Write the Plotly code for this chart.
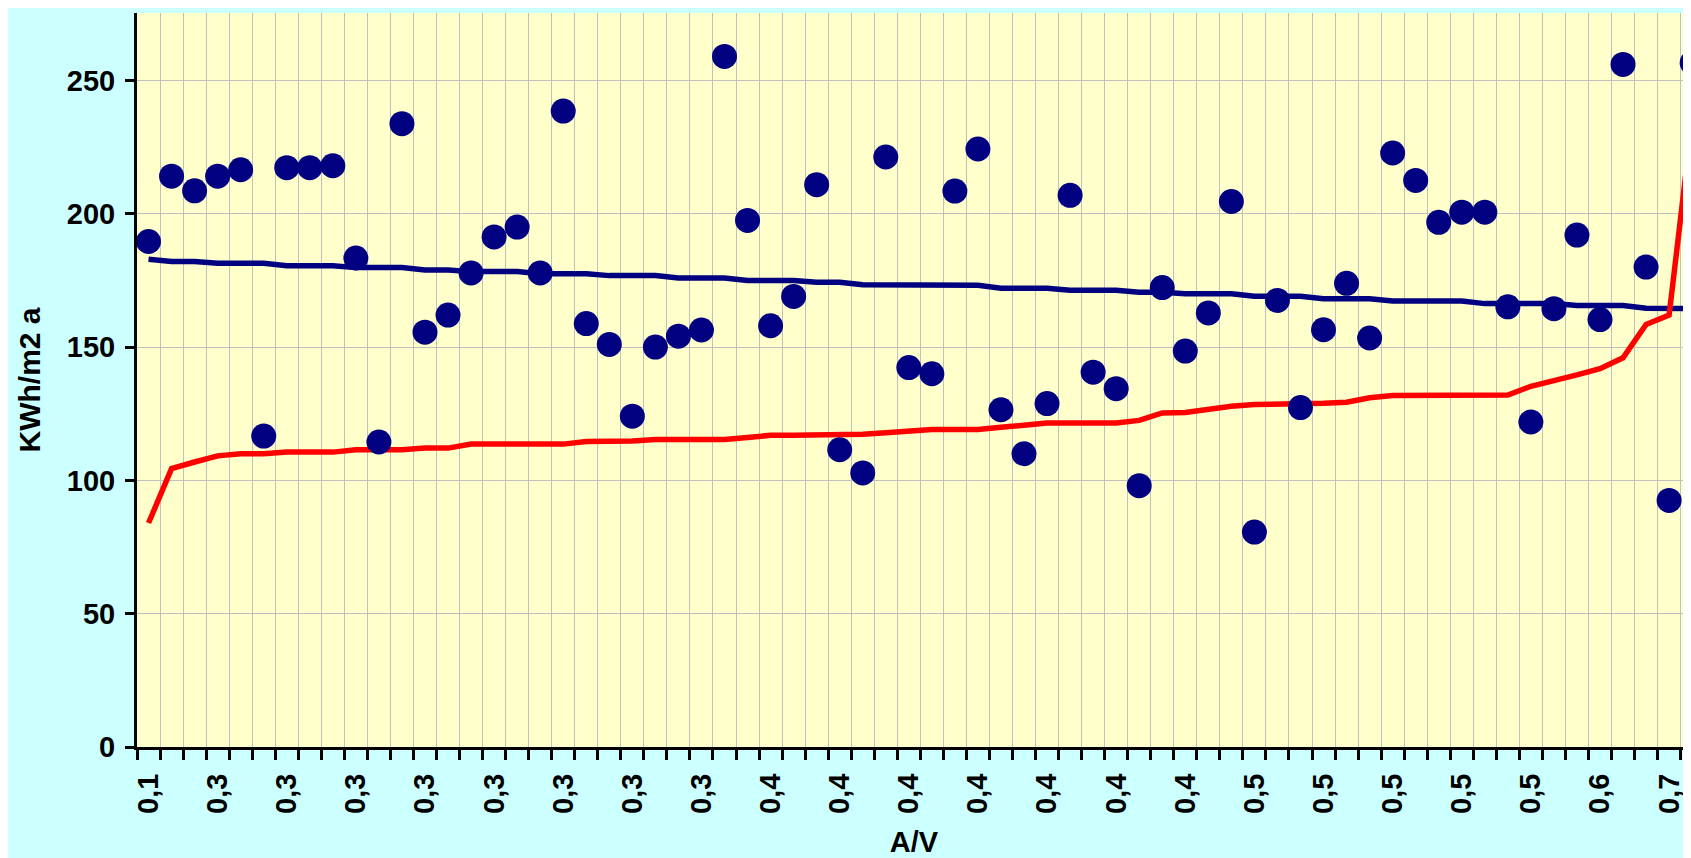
import plotly.graph_objects as go

# ---- data ----
# category index (one per building, sorted by A/V)
categories = list(range(68))

# A/V tick labels (every third category is labelled)
label_positions = [0, 3, 6, 9, 12, 15, 18, 21, 24, 27, 30, 33, 36, 39, 42, 45, 48, 51, 54, 57, 60, 63, 66]
av_labels = ["0,1", "0,3", "0,3", "0,3", "0,3", "0,3", "0,3", "0,3", "0,3",
             "0,4", "0,4", "0,4", "0,4", "0,4", "0,4", "0,4",
             "0,5", "0,5", "0,5", "0,5", "0,5", "0,6", "0,7"]

# measured energy demand (dots), KWh/m2 a
energy = [189.6, 214.1, 208.6, 214.1, 216.5, 116.6, 217.3, 217.3, 218.0, 183.4,
          114.4, 233.8, 155.6, 162.0, 177.8, 191.3, 195.0, 177.8, 238.5, 158.8,
          151.0, 124.1, 150.0, 154.1, 156.4, 259.0, 197.5, 158.0, 169.0, 210.9,
          111.5, 102.8, 221.3, 142.3, 140.0, 208.5, 224.3, 126.5, 110.0, 128.8,
          206.9, 140.6, 134.4, 98.0, 172.3, 148.5, 162.8, 204.6, 80.6, 167.5,
          127.3, 156.5, 173.9, 153.4, 222.8, 212.5, 196.8, 200.6, 200.6, 165.1,
          121.9, 164.4, 192.0, 160.3, 256.0, 180.0, 92.5, 256.6]

# blue trend line
trend = [182.9, 182.1, 182.1, 181.4, 181.4, 181.4, 180.5, 180.5, 180.5, 179.8,
         179.8, 179.8, 178.9, 178.9, 178.3, 178.3, 178.3, 177.5, 177.5, 177.5,
         176.8, 176.8, 176.8, 175.9, 175.9, 175.9, 175.0, 175.0, 175.0, 174.3,
         174.3, 173.4, 173.4, 173.4, 173.2, 173.2, 173.2, 172.1, 172.1, 172.1,
         171.3, 171.3, 171.3, 170.6, 170.6, 170.0, 170.0, 170.0, 169.1, 169.1,
         169.1, 168.1, 168.1, 168.1, 167.3, 167.3, 167.3, 167.3, 166.3, 166.3,
         166.3, 166.3, 165.6, 165.6, 165.6, 164.6, 164.4, 164.4]

# red limit line
limit = [84.0, 104.4, 106.9, 109.2, 110.0, 110.0, 110.6, 110.6, 110.6, 111.5,
         111.5, 111.5, 112.1, 112.1, 113.6, 113.6, 113.6, 113.6, 113.6, 114.6,
         114.6, 114.8, 115.3, 115.3, 115.3, 115.3, 116.1, 116.9, 116.9, 116.9,
         116.9, 117.3, 117.9, 118.5, 119.1, 119.1, 119.1, 119.9, 120.7, 121.5,
         121.5, 121.5, 121.5, 122.5, 125.3, 125.5, 126.7, 127.8, 128.5, 128.5,
         128.5, 128.9, 129.3, 131.0, 131.8, 131.8, 131.8, 131.8, 131.8, 132.0,
         135.3, 137.3, 139.6, 141.9, 146.0, 158.5, 162.0, 235.0]

NAVY = "#000080"
RED = "#FF0000"
FONT = "Liberation Sans, Arial, sans-serif"

fig = go.Figure()
fig.add_trace(go.Scatter(x=categories, y=trend, mode="lines",
                         line=dict(color=NAVY, width=5.5), showlegend=False))
fig.add_trace(go.Scatter(x=categories, y=limit, mode="lines",
                         line=dict(color=RED, width=5.5), showlegend=False))
fig.add_trace(go.Scatter(x=categories, y=energy, mode="markers",
                         marker=dict(color=NAVY, size=25, line=dict(width=0)),
                         showlegend=False))

# the page body has an 8px margin: size the figure so that it ends at the window edge
fig.update_layout(
    width=1683, height=850,
    margin=dict(l=129, r=0, t=5, b=111),
    paper_bgcolor="#CCFFFF",
    plot_bgcolor="#FFFFCC",
    showlegend=False,
    font=dict(family=FONT, color="black"),
)

fig.update_xaxes(
    range=[-0.5, 66.95],
    tickmode="array", tickvals=label_positions, ticktext=av_labels,
    tickangle=-90,
    ticks="outside", ticklen=12, tickcolor="rgba(0,0,0,0)",
    tickfont=dict(family=FONT, size=29, weight="bold", color="black"),
    showgrid=False, zeroline=False,
    showline=True, linecolor="black", linewidth=3,
    minor=dict(tick0=-0.5, dtick=1, ticks="outside", ticklen=10, tickwidth=3,
               tickcolor="black", showgrid=True, gridcolor="#C0C0C0", gridwidth=1),
    title=dict(text="A/V", font=dict(family=FONT, size=29, weight="bold", color="black"),
               standoff=20),
    automargin=False,
)

fig.update_yaxes(
    range=[0, 275.3],
    tickmode="linear", tick0=0, dtick=50,
    ticks="outside", ticklen=9, tickwidth=3, tickcolor="black",
    ticklabelstandoff=4,
    tickfont=dict(family=FONT, size=29, weight="bold", color="black"),
    showgrid=True, gridcolor="#C0C0C0", gridwidth=1,
    zeroline=False,
    showline=True, linecolor="black", linewidth=3,
    title=dict(text="KWh/m2 a", font=dict(family=FONT, size=30, weight="bold", color="black"),
               standoff=18),
    automargin=False,
)

fig.write_html("out.html")
